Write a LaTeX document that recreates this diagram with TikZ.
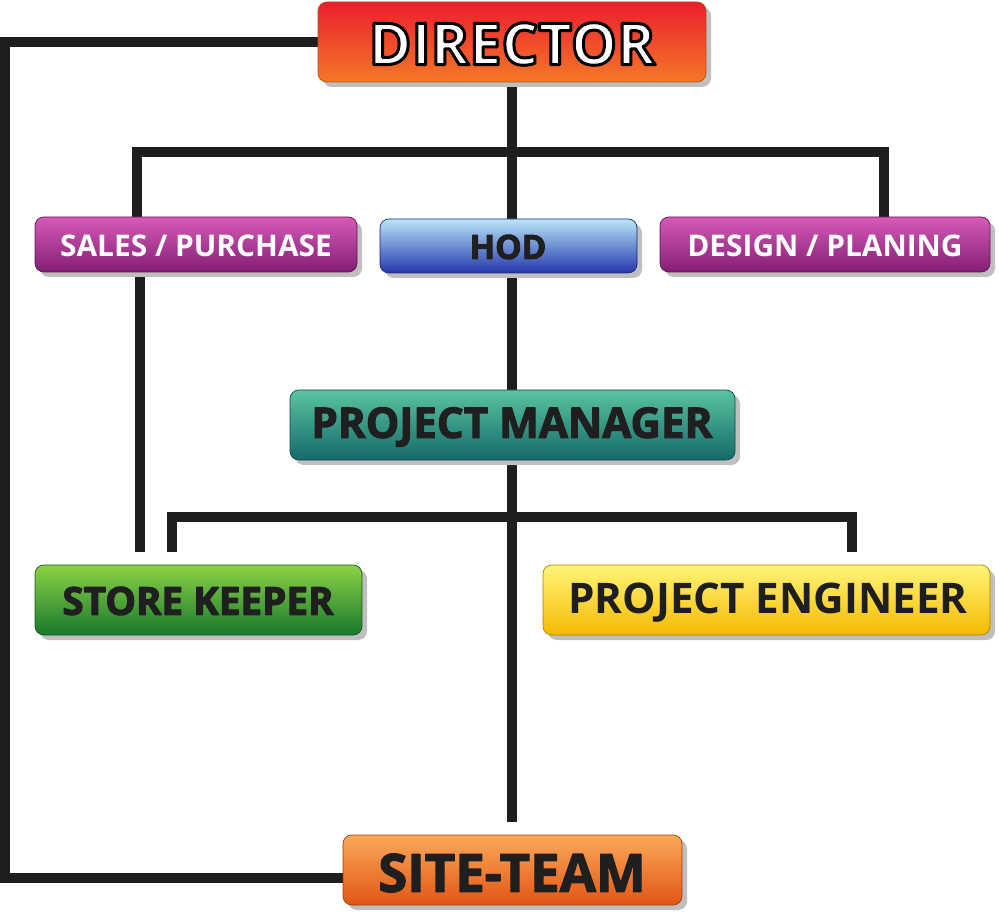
\documentclass[tikz,border=0pt]{standalone}
\usepackage{fontspec}
\setmainfont{Open Sans}
\usetikzlibrary{shadings}
\definecolor{redT}{RGB}{235,30,45}\definecolor{redB}{RGB}{245,120,40}
\definecolor{magT}{RGB}{215,90,185}\definecolor{magB}{RGB}{130,30,115}
\definecolor{bluT}{RGB}{185,230,250}\definecolor{bluB}{RGB}{35,55,170}
\definecolor{tealT}{RGB}{90,195,160}\definecolor{tealB}{RGB}{20,105,105}
\definecolor{grnT}{RGB}{140,210,70}\definecolor{grnB}{RGB}{25,120,45}
\definecolor{yelT}{RGB}{255,245,120}\definecolor{yelB}{RGB}{245,185,0}
\definecolor{orT}{RGB}{250,170,90}\definecolor{orB}{RGB}{225,85,20}
\definecolor{ink}{RGB}{30,30,30}
% stroked text: #1 = stroke RGB (pdf), #2 = fill RGB (pdf), #3 = width, #4 = text
\newcommand{\outl}[4]{\special{pdf:code q 2 Tr #3 w 1 j #1 RG #2 rg}#4\special{pdf:code Q}}
\tikzset{
 box/.style args={#1/#2}{rounded corners=5pt, top color=#1, bottom color=#2, draw=#2!70!black, line width=0.4pt},
 shad/.style={fill=black!25, rounded corners=5pt},
 conn/.style={line width=5.5pt, draw=ink}
}
\begin{document}
\begin{tikzpicture}[x=0.02cm,y=-0.02cm]
\useasboundingbox (0,0) rectangle (1000,918);
\draw[conn] (318,42) -- (5,42) -- (5,878) -- (343,878);
\draw[conn] (512,82) -- (512,152);
\draw[conn] (137,219) -- (137,152) -- (884,152) -- (884,219);
\draw[conn] (512,152) -- (512,219);
\draw[conn] (140,272) -- (140,552);
\draw[conn] (512,273) -- (512,392);
\draw[conn] (512,460) -- (512,822);
\draw[conn] (172,552) -- (172,517) -- (852,517) -- (852,552);
\foreach \a/\b/\c/\d in {318/2/706/82,35/217/357/272,380/219/637/273,660/217/990/272,290/390/735/460,35/565/362/635,543/565/990/635,343/835/682/905}
  \fill[shad] (\a+5,\b+5) rectangle (\c+5,\d+5);
\path[box=redT/redB] (318,2) rectangle (706,82);
\node (dir) at (512,44) {\fontsize{33}{36}\selectfont\bfseries\outl{0 0 0}{1 1 1}{1.7}{DIRECTOR}};
\path[box=magT/magB] (35,217) rectangle (357,272);
\node (sp) at (196,246) {\fontsize{17}{20}\selectfont\bfseries\textcolor{white}{SALES / PURCHASE}};
\path[box=bluT/bluB] (380,219) rectangle (637,273);
\node (hod) at (508,247) {\fontsize{19}{22}\selectfont\bfseries\outl{0.12 0.12 0.12}{0.12 0.12 0.12}{0.5}{HOD}};
\path[box=magT/magB] (660,217) rectangle (990,272);
\node (dp) at (825,246) {\fontsize{17}{20}\selectfont\bfseries\textcolor{white}{DESIGN / PLANING}};
\path[box=tealT/tealB] (290,390) rectangle (735,460);
\node (pm) at (512,427) {\fontsize{24}{27}\selectfont\bfseries\outl{0.12 0.12 0.12}{0.12 0.12 0.12}{0.6}{PROJECT MANAGER}};
\path[box=grnT/grnB] (35,565) rectangle (362,635);
\node (sk) at (198,601) {\fontsize{22}{25}\selectfont\bfseries\outl{0.12 0.12 0.12}{0.12 0.12 0.12}{0.6}{STORE KEEPER}};
\path[box=yelT/yelB] (543,565) rectangle (990,635);
\node (pe) at (768,603) {\fontsize{24}{27}\selectfont\bfseries\textcolor{ink}{PROJECT ENGINEER}};
\path[box=orT/orB] (343,835) rectangle (682,905);
\node (st) at (512,873) {\fontsize{30}{33}\selectfont\bfseries\outl{0.12 0.12 0.12}{0.12 0.12 0.12}{0.7}{SITE-TEAM}};
\end{tikzpicture}
\end{document}
